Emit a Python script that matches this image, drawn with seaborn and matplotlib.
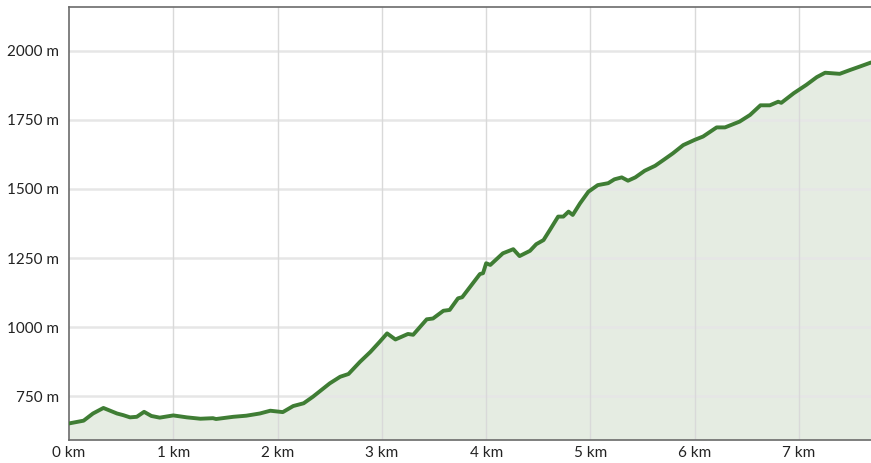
import matplotlib
matplotlib.use("Agg")
import matplotlib.pyplot as plt
import seaborn as sns
import pandas as pd

dist_km = [0.0, 0.14, 0.23, 0.33, 0.46, 0.52, 0.585, 0.65, 0.72, 0.79, 0.87, 1.0, 1.13,
           1.26, 1.38, 1.41, 1.575, 1.70, 1.83, 1.93, 2.05, 2.15, 2.25, 2.34, 2.50, 2.60,
           2.68, 2.79, 2.89, 2.98, 3.05, 3.13, 3.19, 3.25, 3.30, 3.43, 3.49, 3.59, 3.65,
           3.73, 3.77, 3.94, 3.97, 4.00, 4.04, 4.16, 4.26, 4.32, 4.42, 4.48, 4.55, 4.61,
           4.69, 4.74, 4.79, 4.83, 4.90, 4.98, 5.07, 5.17, 5.23, 5.30, 5.36, 5.43, 5.52,
           5.62, 5.70, 5.79, 5.89, 6.00, 6.08, 6.21, 6.29, 6.43, 6.53, 6.63, 6.72, 6.80,
           6.83, 6.95, 7.07, 7.17, 7.25, 7.39, 7.49, 7.58, 7.69]
elev_m = [651, 661, 687, 707, 687, 681, 673, 675, 693, 678, 672, 680, 673,
          668, 670, 667, 675, 679, 687, 697, 692, 714, 724, 748, 796, 820,
          830, 874, 910, 947, 977, 955, 965, 975, 972, 1028, 1031, 1059, 1062,
          1104, 1108, 1192, 1195, 1231, 1225, 1267, 1282, 1257, 1276, 1300, 1315, 1351,
          1400, 1400, 1418, 1406, 1448, 1490, 1514, 1521, 1535, 1542, 1530, 1542, 1566,
          1584, 1605, 1629, 1659, 1678, 1690, 1723, 1723, 1744, 1768, 1803, 1803, 1816,
          1812, 1847, 1877, 1905, 1921, 1917, 1931, 1943, 1958]
x_ticks = [0, 1, 2, 3, 4, 5, 6, 7]
x_tick_labels = ["0 km", "1 km", "2 km", "3 km", "4 km", "5 km", "6 km", "7 km"]
y_ticks = [750, 1000, 1250, 1500, 1750, 2000]
y_tick_labels = ["750 m", "1000 m", "1250 m", "1500 m", "1750 m", "2000 m"]

df = pd.DataFrame({"dist": dist_km, "elev": elev_m})

sns.set_theme(style="white")
plt.rcParams["font.family"] = ["Lato", "DejaVu Sans"]

fig = plt.figure(figsize=(8.71, 4.63), dpi=100)
ax = fig.add_axes([69 / 871, 23 / 463, 802 / 871, 433 / 463])

ymin = 591
ax.fill_between(df["dist"], df["elev"], ymin, color="#e5ece2", zorder=1, linewidth=0)
sns.lineplot(data=df, x="dist", y="elev", ax=ax, color="#3f7d34", linewidth=2.8, zorder=3,
             solid_joinstyle="round", solid_capstyle="round")

ax.set_xlim(0, 7.69)
ax.set_ylim(ymin, 2159)
ax.set_xticks(x_ticks)
ax.set_xticklabels(x_tick_labels)
ax.set_yticks(y_ticks)
ax.set_yticklabels(y_tick_labels)
ax.set_xlabel("")
ax.set_ylabel("")

for y in y_ticks:
    ax.axhline(y, color="#e6e6e6", linewidth=1.8, zorder=2)
for x in x_ticks[1:]:
    ax.axvline(x, color="#d9d9d9", linewidth=1.0, zorder=2)

ax.tick_params(axis="both", length=0, labelsize=11, colors="#222222")
ax.tick_params(axis="x", pad=4)
ax.tick_params(axis="y", pad=7)

for side in ["left", "top", "bottom"]:
    ax.spines[side].set_color("#6b6b6b")
    ax.spines[side].set_linewidth(1.2)
ax.spines["right"].set_visible(False)

fig.savefig("out.png", dpi=100)
